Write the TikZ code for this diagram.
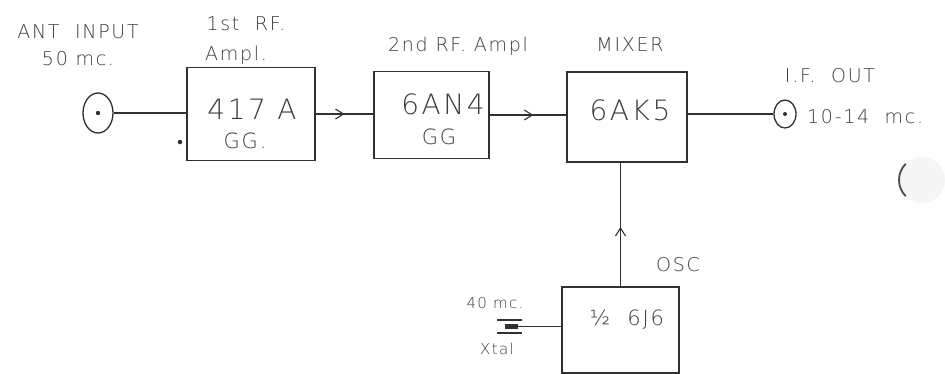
\documentclass[tikz,border=0pt]{standalone}
\usepackage{fontspec}
\setmainfont{DejaVu Sans ExtraLight}
\newfontfamily\handfont[LetterSpace=9]{DejaVu Sans ExtraLight}
\usetikzlibrary{shapes.geometric,arrows.meta,decorations.markings}
\definecolor{inkgray}{HTML}{303030}
\definecolor{pencil}{HTML}{3C3C3C}

\begin{document}
\begin{tikzpicture}[
  x=1pt,y=-1pt,
  stage/.style={draw=inkgray,line width=1.6pt,inner sep=0pt},
  jack/.style={ellipse,draw=inkgray,line width=1.3pt,inner sep=0pt},
  wire/.style={draw=inkgray,line width=1.3pt},
  sig/.style={wire,postaction={decorate},
              decoration={markings,mark=at position #1 with
                {\arrow[inkgray,line width=1.1pt]{Straight Barb[length=8pt,width=10pt]}}}},
  sig/.default=0.5,
  hand/.style={text=pencil,font=\handfont\fontsize{19}{21}\selectfont,inner sep=0pt},
  small/.style={text=pencil,font=\handfont\fontsize{15}{17}\selectfont,inner sep=0pt},
  tube/.style={text=pencil,font=\handfont\fontsize{28}{30}\selectfont,inner sep=0pt},
  grid/.style={text=pencil,font=\handfont\fontsize{21}{23}\selectfont,inner sep=0pt}
]
\useasboundingbox (0,0) rectangle (945,373);
\fill[white] (0,0) rectangle (945,373);

% Antenna jack
\node[jack,minimum width=30pt,minimum height=40pt] (ant) at (98,113) {};
\fill[inkgray] (ant.center) circle (2.2pt);
\node[hand] (antlbl) at (78,32) {ANT\ \ INPUT};
\node[hand] (antmc)  at (78,59) {50 mc.};
\node[circle,fill=inkgray,inner sep=1.6pt] (speck) at (180,142) {};

% 1st RF amplifier
\node[stage,minimum width=128pt,minimum height=93pt] (rf1) at (251,114) {};
\node[tube] (rf1tube) at (252,109) {417 A};
\node[grid] (rf1gg)   at (245,141) {GG.};
\node[hand] (rf1lbl)  at (246,24)  {1st\ \ RF.};
\node[hand] (rf1amp)  at (236,55)  {Ampl.};

% 2nd RF amplifier
\node[stage,minimum width=115pt,minimum height=87pt] (rf2) at (431.5,115) {};
\node[tube] (rf2tube) at (443,104) {6AN4};
\node[grid] (rf2gg)   at (439,137) {GG};
\node[hand] (rf2lbl)  at (458,46)  {2nd\ RF.\ Ampl};

% Mixer
\node[stage,minimum width=120pt,minimum height=90pt] (mixer) at (627,117) {};
\node[tube] (mixtube) at (630,110) {6AK5};
\node[hand] (mixlbl)  at (630,45)  {MIXER};

% IF output jack
\node[jack,minimum width=22pt,minimum height=28pt] (ifout) at (785,114) {};
\fill[inkgray] (ifout.center) circle (2pt);
\node[hand] (iflbl) at (830,76) {I.F.\ \ OUT};
\node[hand,anchor=west] (ifmc) at (807,117) {10-14\ \ mc.};

% Oscillator
\node[stage,minimum width=117pt,minimum height=86pt] (osc) at (620.5,330) {};
\node[grid] (osctube) at (627,320) {½\ \ 6J6};
\node[hand] (osclbl)  at (678,265) {OSC};

% Crystal
\node[fill=inkgray,minimum width=13pt,minimum height=5pt,inner sep=0pt] (xtal) at (511.5,326.5) {};
\draw[wire] (497,320) -- (522,320);
\draw[wire] (497,333) -- (522,333);
\node[small] (xtalmc)  at (495,303) {40 mc.};
\node[small] (xtallbl) at (497,349) {Xtal};

% Signal path
\draw[wire] (ant.east) -- (ant.east -| rf1.west);
\draw[sig=0.5] (rf1.east) -- (rf1.east -| rf2.west);
\draw[sig=0.57] (rf2.east) -- (rf2.east -| mixer.west);
\draw[wire] (mixer.east |- ifout) -- (ifout.west);
\draw[sig=0.48] (osc.north) -- (osc.north |- mixer.south);
\draw[wire] (xtal.east) -- (xtal.east -| osc.west);

% Punch hole
\fill[gray!8] (922,180) circle (23pt);
\draw[gray!60!black,line width=1.8pt] (922,180) ++(135:23pt) arc[start angle=135,end angle=225,radius=23pt];
\end{tikzpicture}
\end{document}
